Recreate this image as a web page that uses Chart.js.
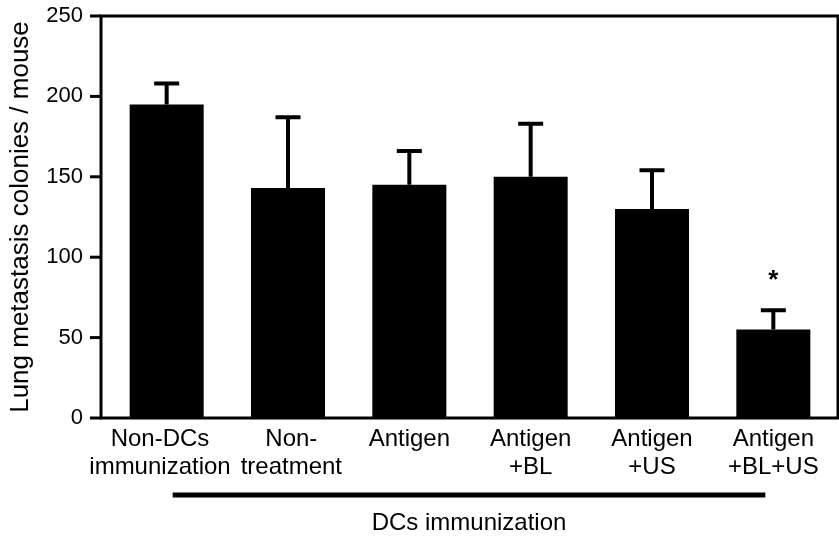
<!DOCTYPE html>
<html>
<head>
<meta charset="utf-8">
<script src="https://cdn.jsdelivr.net/npm/chart.js@4"></script>
<style>
  html, body { margin: 0; padding: 0; background: #fff; }
</style>
</head>
<body>
<canvas id="grafico-colonias" width="839" height="544"></canvas>
<script>
// datos
// (los espacios extra corren un poco las dos primeras etiquetas, como en el original)
var categorias = [
    ['Non-DCs  ', 'immunization  '],
    [' Non-', ' treatment'],
    ['Antigen'],
    ['Antigen', '+BL'],
    ['Antigen', '+US'],
    ['Antigen', '+BL+US']
];
var colonias = [195, 143, 145, 150, 130, 55];
var errorSuperior = [208, 187, 166, 183, 154, 67];
var significativo = [false, false, false, false, false, true];
var ticksY = [0, 50, 100, 150, 200, 250];
var textoGrupo = 'DCs immunization';

var fuente = '"Liberation Sans", Arial, Helvetica, sans-serif';
Chart.defaults.color = '#000';
Chart.defaults.font.family = fuente;

// marco, marcas del eje y, barras de error, asterisco y la linea de grupo
var dibujosExtra = {
    id: 'dibujosExtra',
    afterDatasetsDraw: function (chart) {
        var ctx = chart.ctx;
        var area = chart.chartArea;
        var yScale = chart.scales.y;
        var xScale = chart.scales.x;
        var meta = chart.getDatasetMeta(0);
        var ejeX = area.left - 5;

        ctx.save();
        ctx.strokeStyle = '#000';
        ctx.lineWidth = 3;
        ctx.strokeRect(ejeX, area.top, area.right + 4 - ejeX, area.bottom - area.top);

        ticksY.forEach(function (v) {
            var py = yScale.getPixelForValue(v);
            ctx.beginPath();
            ctx.moveTo(ejeX - 11, py);
            ctx.lineTo(ejeX, py);
            ctx.stroke();
        });

        ctx.lineWidth = 4;
        meta.data.forEach(function (barra, i) {
            var yTop = yScale.getPixelForValue(colonias[i]);
            var yErr = yScale.getPixelForValue(errorSuperior[i]);
            ctx.beginPath();
            ctx.moveTo(barra.x, yTop);
            ctx.lineTo(barra.x, yErr);
            ctx.moveTo(barra.x - 12.5, yErr);
            ctx.lineTo(barra.x + 12.5, yErr);
            ctx.stroke();
            if (significativo[i]) {
                ctx.fillStyle = '#000';
                ctx.font = 'bold 26px ' + fuente;
                ctx.textAlign = 'center';
                ctx.textBaseline = 'alphabetic';
                ctx.fillText('*', barra.x, yErr + 2 - 24);
            }
        });

        var x1 = xScale.getPixelForValue(0) + 6;
        var x2 = xScale.getPixelForValue(categorias.length - 1) - 8;
        ctx.lineWidth = 5;
        ctx.beginPath();
        ctx.moveTo(x1, 495);
        ctx.lineTo(x2, 495);
        ctx.stroke();

        ctx.fillStyle = '#000';
        ctx.font = '24px ' + fuente;
        ctx.textAlign = 'center';
        ctx.textBaseline = 'middle';
        ctx.fillText(textoGrupo, (x1 + x2) / 2, 523);
        ctx.restore();
    }
};

const ctx = document.getElementById('grafico-colonias');
var myChart = new Chart(ctx, {
    type: 'bar',
    data: {
        labels: categorias,
        datasets: [{
            data: colonias,
            backgroundColor: '#000',
            borderWidth: 0,
            barPercentage: 0.61,
            categoryPercentage: 1
        }]
    },
    options: {
        responsive: false,
        animation: false,
        layout: {
            padding: { top: 16, right: 5, left: 0, bottom: 0 }
        },
        plugins: {
            legend: { display: false },
            tooltip: { enabled: false }
        },
        scales: {
            x: {
                grid: { display: false, drawTicks: false },
                border: { display: false },
                ticks: {
                    font: { size: 24, lineHeight: 1.15 },
                    padding: 8,
                    maxRotation: 0,
                    autoSkip: false
                },
                afterFit: function (scale) {
                    scale.height = 126;
                    scale.paddingLeft = 0;
                    scale.paddingRight = 0;
                }
            },
            y: {
                min: 0,
                max: 250,
                grid: { display: false, drawTicks: false },
                border: { display: false },
                afterBuildTicks: function (scale) {
                    scale.ticks = ticksY.map(function (v) { return { value: v }; });
                },
                ticks: {
                    font: { size: 22 },
                    padding: 23
                },
                title: {
                    display: true,
                    text: 'Lung metastasis colonies / mouse',
                    font: { size: 26 },
                    padding: { top: 5, bottom: 0 }
                },
                afterFit: function (scale) {
                    scale.width = 106;
                    scale.paddingTop = 0;
                    scale.paddingBottom = 0;
                }
            }
        }
    },
    plugins: [dibujosExtra]
});
</script>
</body>
</html>
